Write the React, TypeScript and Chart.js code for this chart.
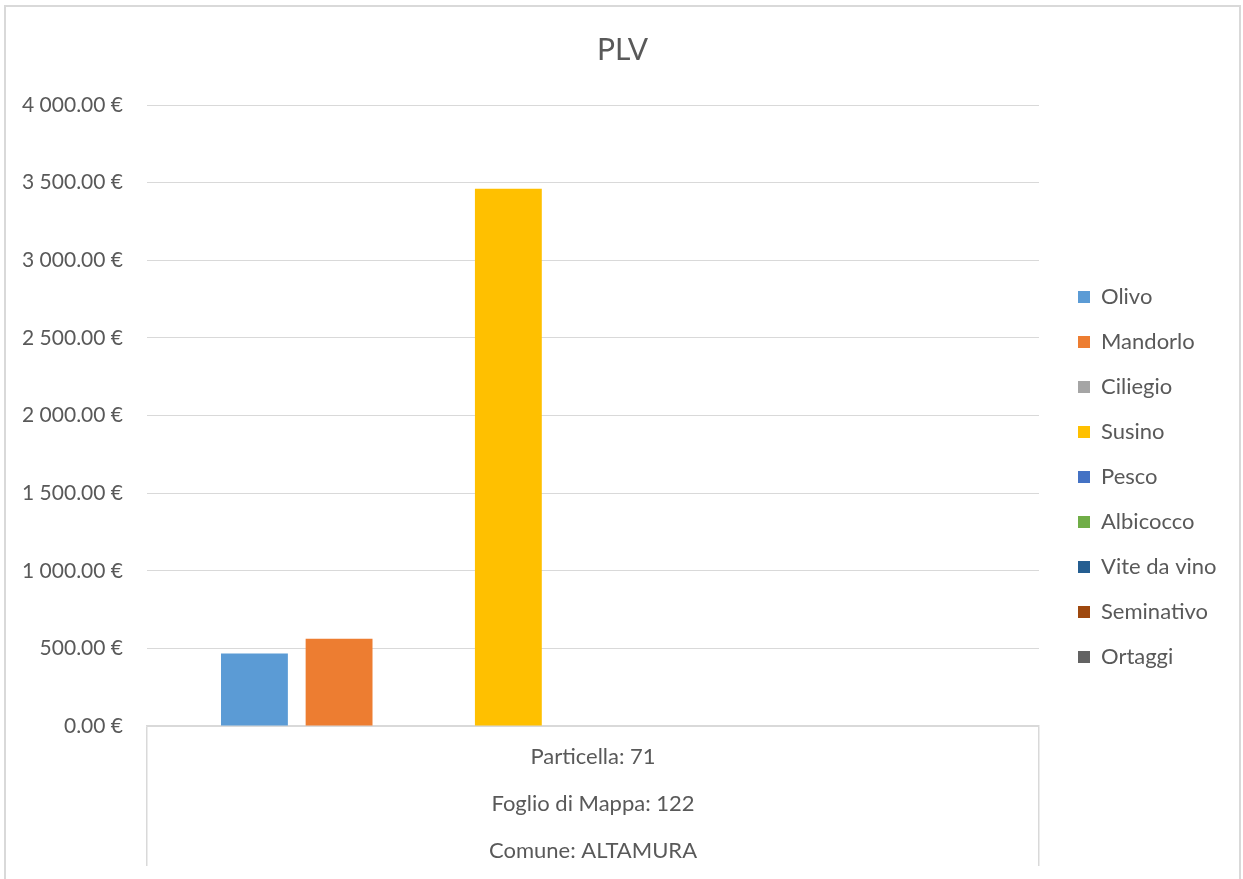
import React, { useEffect, useRef } from "react";
import { Chart, registerables } from "chart.js";

Chart.register(...registerables);

const categoryLines = ["Particella: 71", "Foglio di Mappa: 122", "Comune: ALTAMURA"];
const seriesNames = ["Olivo", "Mandorlo", "Ciliegio", "Susino", "Pesco", "Albicocco", "Vite da vino", "Seminativo", "Ortaggi"];
const seriesValues = [467, 562, 0, 3460, 0, 0, 0, 0, 0];
const seriesColors = ["#5B9BD5", "#ED7D31", "#A5A5A5", "#FFC000", "#4472C4", "#70AD47", "#255E91", "#9E480E", "#636363"];
const yTicks = { min: 0, max: 4000, step: 500 };
const chartTitle = "PLV";

const FONT = "Lato";
const TEXT = "#595959";
const GRID = "#d9d9d9";

function fmtEuro(v: number): string {
  const [i, d] = Number(v).toFixed(2).split(".");
  return i.replace(/\B(?=(\d{3})+(?!\d))/g, " ") + "." + d + " €";
}

const legendWidthPlugin = {
  id: "legendWidth",
  beforeLayout(chart: any) {
    const lg = chart.legend;
    if (lg && !lg._fixedW) {
      const origFit = lg.fit;
      lg.fit = function () {
        origFit.call(this);
        this.width = 184;
      };
      lg._fixedW = true;
    }
  },
};

export default function App() {
  const ref = useRef<HTMLCanvasElement>(null);
  useEffect(() => {
    document.documentElement.style.overflow = "hidden";
    const ctx = ref.current!;
    const chart = new Chart(ctx, {
      type: "bar",
      data: {
        labels: [categoryLines],
        datasets: seriesNames.map((name, i) => ({
          label: name,
          data: [seriesValues[i]],
          backgroundColor: seriesColors[i],
          borderWidth: 0,
          yAxisID: "y",
          categoryPercentage: 0.854,
          barPercentage: 0.79,
        })),
      },
      plugins: [legendWidthPlugin],
      options: {
        animation: false,
        responsive: false,
        devicePixelRatio: 1,
        layout: { padding: { left: 0, right: 0, top: 0, bottom: 0 } },
        plugins: {
          title: {
            display: true,
            text: chartTitle,
            color: TEXT,
            font: { family: FONT, size: 30, weight: "normal", lineHeight: 1.2 },
            padding: { top: 25, bottom: 37 },
          },
          legend: {
            position: "right",
            title: {
              display: true,
              text: " ",
              font: { family: FONT, size: 10, lineHeight: 1.2 },
              padding: 28,
            },
            labels: {
              color: TEXT,
              font: { family: FONT, size: 22 },
              boxWidth: 12,
              boxHeight: 12,
              padding: 23,
            },
          },
          tooltip: { enabled: false },
        },
        scales: {
          y: {
            min: yTicks.min,
            max: yTicks.max,
            position: "left",
            ticks: {
              stepSize: yTicks.step,
              color: TEXT,
              font: { family: FONT, size: 21 },
              padding: 24,
              callback: (v: any) => fmtEuro(v),
            },
            grid: { color: GRID, lineWidth: 1, drawTicks: false },
            border: { display: false },
            afterFit: (s: any) => { s.width = 141; },
          },
          gap: {
            type: "linear",
            position: "right",
            display: true,
            ticks: { display: false },
            grid: { display: false },
            border: { display: false },
            afterFit: (s: any) => { s.width = 16; },
          },
          x: {
            ticks: {
              color: TEXT,
              font: { family: FONT, size: 22, lineHeight: 47 / 22 },
              padding: -132.5,
              maxRotation: 0,
              autoSkip: false,
            },
            grid: {
              offset: true,
              drawOnChartArea: false,
              drawTicks: true,
              tickLength: 140,
              color: GRID,
              lineWidth: 1.5,
            },
            border: { display: true, color: GRID, width: 1.5 },
            afterFit: (s: any) => { s.height = 153; },
          },
        },
      },
    });
    return () => chart.destroy();
  }, []);

  return (
    <div
      style={{
        position: "absolute",
        left: 4,
        top: 5,
        width: 1233,
        height: 872,
        borderLeft: `2px solid ${GRID}`,
        borderTop: `2px solid ${GRID}`,
        borderRight: `2px solid ${GRID}`,
        background: "#fff",
      }}
    >
      <canvas ref={ref} width={1233} height={872} style={{ display: "block" }} />
    </div>
  );
}
